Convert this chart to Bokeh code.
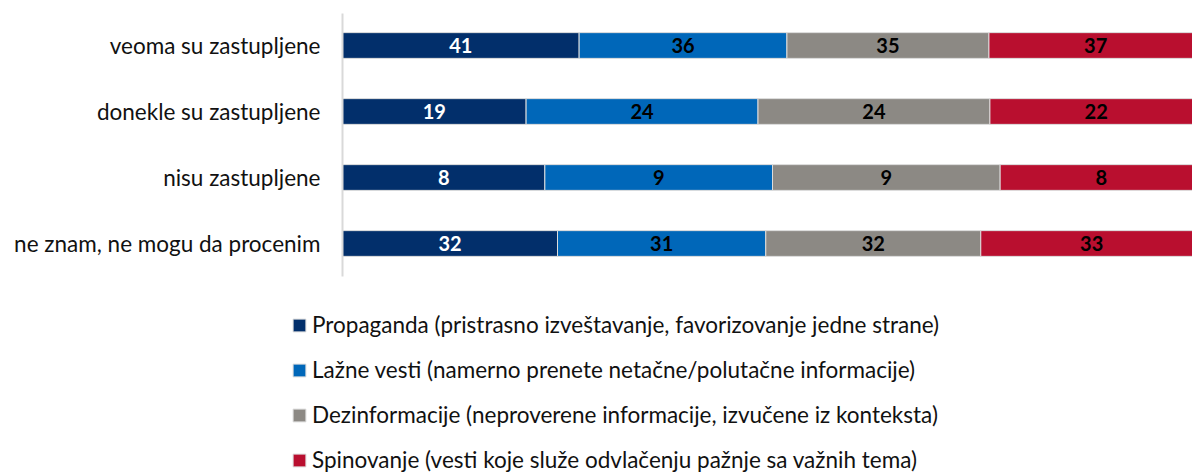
from bokeh.plotting import figure
from bokeh.models import ColumnDataSource, Legend, LegendItem, Range1d, LinearAxis, FixedTicker
from bokeh.core.properties import value
from bokeh.embed import file_html
from bokeh.resources import INLINE

categories = ["veoma su zastupljene", "donekle su zastupljene", "nisu zastupljene", "ne znam, ne mogu da procenim"]
series_names = [
    "Propaganda (pristrasno izveštavanje, favorizovanje jedne strane)",
    "Lažne vesti (namerno prenete netačne/polutačne informacije)",
    "Dezinformacije (neproverene informacije, izvučene iz konteksta)",
    "Spinovanje (vesti koje služe odvlačenju pažnje sa važnih tema)",
]
propaganda = [41, 19, 8, 32]
lazne_vesti = [36, 24, 9, 31]
dezinformacije = [35, 24, 9, 32]
spinovanje = [37, 22, 8, 33]

colors = ["#022f6b", "#0067b9", "#8c8984", "#b90f2f"]
text_colors = ["white", "black", "black", "black"]
keys = ["s0", "s1", "s2", "s3"]
series = [propaganda, lazne_vesti, dezinformacije, spinovanje]

# layout constants (pixels)
W, H = 1192, 472
AXIS_X = 342          # pixel position of the category axis
PX_PER_PCT = 8.6      # pixels per percent
ROW0_Y = 45           # pixel centre of first row
ROW_STEP = 66         # pixels between rows
AXIS_TOP, AXIS_BOTTOM = 13, 276

totals = [sum(v) for v in zip(*series)]
ypos = list(range(len(categories)))
data = {"y": ypos}
for k, s in zip(keys, series):
    data[k] = [v / t * 100 for v, t in zip(s, totals)]
src = ColumnDataSource(data)

x_range = Range1d(-AXIS_X / PX_PER_PCT, (W - AXIS_X) / PX_PER_PCT)
y_range = Range1d((H - ROW0_Y) / ROW_STEP, (0 - ROW0_Y) / ROW_STEP)

p = figure(width=W, height=H, output_backend="svg", toolbar_location=None,
           x_range=x_range, y_range=y_range,
           x_axis_location=None, y_axis_location=None)
p.min_border = 0
p.min_border_left = 0
p.min_border_right = 0
p.min_border_top = 0
p.min_border_bottom = 0
p.outline_line_color = None
p.grid.visible = False
p.background_fill_color = "white"
p.border_fill_color = "white"

rs = p.hbar_stack(keys, y="y", height=0.39, source=src, color=colors,
                  line_color="#dcdcdc", line_width=1)

# value labels
lx, ly, lt, lc = [], [], [], []
for i in ypos:
    left = 0
    for j, k in enumerate(keys):
        w = data[k][i]
        lx.append(left + w / 2)
        ly.append(i)
        lt.append(str(series[j][i]))
        lc.append(text_colors[j])
        left += w
lsrc = ColumnDataSource(dict(x=lx, y=ly, t=lt, c=lc))
p.text(x="x", y="y", text="t", source=lsrc, text_align="center", text_baseline="middle",
       text_font=value("Lato"), text_font_style="bold", text_font_size="20px", text_color="c")

ax = LinearAxis(fixed_location=0,
                ticker=FixedTicker(ticks=ypos),
                major_label_overrides={i: c for i, c in zip(ypos, categories)},
                bounds=((AXIS_TOP - ROW0_Y) / ROW_STEP, (AXIS_BOTTOM - ROW0_Y) / ROW_STEP))
ax.axis_line_color = "#d9d9d9"
ax.axis_line_width = 2
ax.major_tick_line_color = None
ax.minor_tick_line_color = None
ax.major_label_standoff = 16
ax.major_label_text_font = "Lato"
ax.major_label_text_font_size = "22.5px"
ax.major_label_text_color = "#111111"
p.add_layout(ax, "left")

LEG_X, LEG_TOP = 291, 311
LABEL_H, SPACING = 27, 18
leg_h = 4 * LABEL_H + 3 * SPACING
legend = Legend(items=[LegendItem(label=n, renderers=[r]) for n, r in zip(series_names, rs)],
                location=(LEG_X, H - LEG_TOP - leg_h))
legend.glyph_width = 16
legend.glyph_height = 16
legend.label_standoff = 5
legend.label_height = LABEL_H
legend.spacing = SPACING
legend.padding = 0
legend.margin = 0
legend.border_line_alpha = 0
legend.background_fill_alpha = 0
legend.label_text_font = "Lato"
legend.label_text_font_size = "22.5px"
legend.label_text_color = "#111111"
p.add_layout(legend, "center")

open("out.html", "w").write(file_html(p, INLINE))
